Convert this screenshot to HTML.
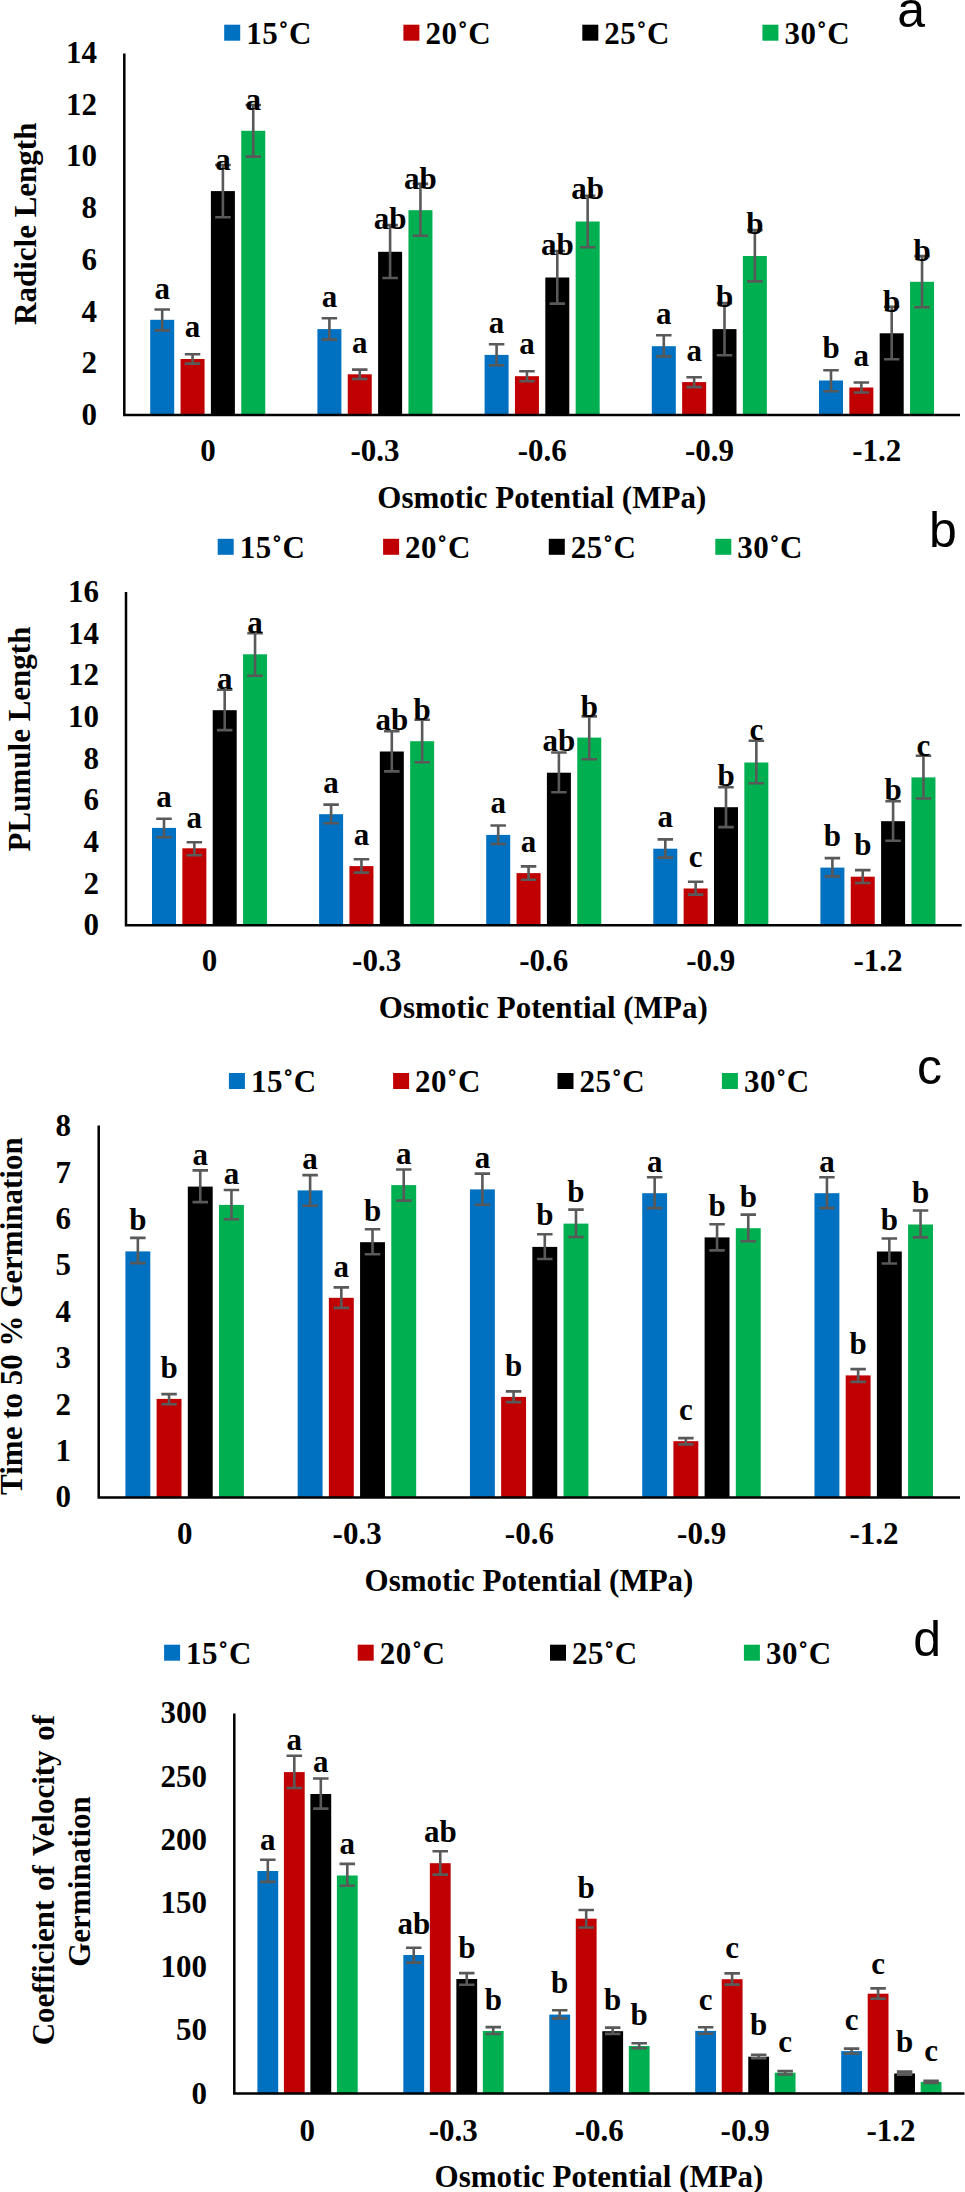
<!DOCTYPE html>
<html><head><meta charset="utf-8"><title>Chart</title>
<style>
html,body{margin:0;padding:0;background:#fff;}
svg{display:block;}
.s{font-family:"Liberation Serif",serif;font-weight:bold;font-size:31px;fill:#000;}
.m{text-anchor:middle;}
.e{text-anchor:end;}
.lg{letter-spacing:0.5px;}
.L{font-family:"Liberation Sans",sans-serif;font-size:50px;fill:#000;}
</style></head><body>
<svg width="965" height="2192" viewBox="0 0 965 2192">
<rect width="965" height="2192" fill="#fff"/>
<rect x="150.2" y="319.8" width="24" height="95.3" fill="#0070C0"/>
<rect x="180.55" y="359" width="24" height="56.1" fill="#C00000"/>
<rect x="210.9" y="191.1" width="24" height="224" fill="#000000"/>
<rect x="241.25" y="130.8" width="24" height="284.3" fill="#00B050"/>
<rect x="317.4" y="329.1" width="24" height="86" fill="#0070C0"/>
<rect x="347.75" y="374.3" width="24" height="40.8" fill="#C00000"/>
<rect x="378.1" y="251.8" width="24" height="163.3" fill="#000000"/>
<rect x="408.45" y="210.2" width="24" height="204.9" fill="#00B050"/>
<rect x="484.6" y="354.9" width="24" height="60.2" fill="#0070C0"/>
<rect x="514.95" y="376.2" width="24" height="38.9" fill="#C00000"/>
<rect x="545.3" y="277.5" width="24" height="137.6" fill="#000000"/>
<rect x="575.65" y="221.5" width="24" height="193.6" fill="#00B050"/>
<rect x="651.8" y="346.2" width="24" height="68.9" fill="#0070C0"/>
<rect x="682.15" y="382.1" width="24" height="33" fill="#C00000"/>
<rect x="712.5" y="329.1" width="24" height="86" fill="#000000"/>
<rect x="742.85" y="256" width="24" height="159.1" fill="#00B050"/>
<rect x="819" y="380.5" width="24" height="34.6" fill="#0070C0"/>
<rect x="849.35" y="387.5" width="24" height="27.6" fill="#C00000"/>
<rect x="879.7" y="333.3" width="24" height="81.8" fill="#000000"/>
<rect x="910.05" y="281.8" width="24" height="133.3" fill="#00B050"/>
<path d="M124.3 53.4V415.1H960" fill="none" stroke="#000" stroke-width="2.5"/>
<path d="M162.2 309.5V330.4M154.45 309.5H169.95M154.45 330.4H169.95" stroke="#595959" stroke-width="2.6" fill="none"/>
<path d="M192.55 354.3V363.6M184.8 354.3H200.3M184.8 363.6H200.3" stroke="#595959" stroke-width="2.6" fill="none"/>
<path d="M222.9 165V217.2M215.15 165H230.65M215.15 217.2H230.65" stroke="#595959" stroke-width="2.6" fill="none"/>
<path d="M253.25 105V156.6M245.5 105H261M245.5 156.6H261" stroke="#595959" stroke-width="2.6" fill="none"/>
<path d="M329.4 318.2V339.6M321.65 318.2H337.15M321.65 339.6H337.15" stroke="#595959" stroke-width="2.6" fill="none"/>
<path d="M359.75 369.6V379M352 369.6H367.5M352 379H367.5" stroke="#595959" stroke-width="2.6" fill="none"/>
<path d="M390.1 225.1V278M382.35 225.1H397.85M382.35 278H397.85" stroke="#595959" stroke-width="2.6" fill="none"/>
<path d="M420.45 183.9V235.7M412.7 183.9H428.2M412.7 235.7H428.2" stroke="#595959" stroke-width="2.6" fill="none"/>
<path d="M496.6 344.3V365.3M488.85 344.3H504.35M488.85 365.3H504.35" stroke="#595959" stroke-width="2.6" fill="none"/>
<path d="M526.95 371.2V381.2M519.2 371.2H534.7M519.2 381.2H534.7" stroke="#595959" stroke-width="2.6" fill="none"/>
<path d="M557.3 251V303.6M549.55 251H565.05M549.55 303.6H565.05" stroke="#595959" stroke-width="2.6" fill="none"/>
<path d="M587.65 195.9V247.2M579.9 195.9H595.4M579.9 247.2H595.4" stroke="#595959" stroke-width="2.6" fill="none"/>
<path d="M663.8 335.3V356.4M656.05 335.3H671.55M656.05 356.4H671.55" stroke="#595959" stroke-width="2.6" fill="none"/>
<path d="M694.15 377.3V387.1M686.4 377.3H701.9M686.4 387.1H701.9" stroke="#595959" stroke-width="2.6" fill="none"/>
<path d="M724.5 303.1V355.2M716.75 303.1H732.25M716.75 355.2H732.25" stroke="#595959" stroke-width="2.6" fill="none"/>
<path d="M754.85 230.1V281.4M747.1 230.1H762.6M747.1 281.4H762.6" stroke="#595959" stroke-width="2.6" fill="none"/>
<path d="M831 370.2V391.3M823.25 370.2H838.75M823.25 391.3H838.75" stroke="#595959" stroke-width="2.6" fill="none"/>
<path d="M861.35 382.5V392.5M853.6 382.5H869.1M853.6 392.5H869.1" stroke="#595959" stroke-width="2.6" fill="none"/>
<path d="M891.7 306.7V359.3M883.95 306.7H899.45M883.95 359.3H899.45" stroke="#595959" stroke-width="2.6" fill="none"/>
<path d="M922.05 256.1V307.2M914.3 256.1H929.8M914.3 307.2H929.8" stroke="#595959" stroke-width="2.6" fill="none"/>
<text x="162.2" y="299.1" class="s m">a</text>
<text x="192.55" y="337.4" class="s m">a</text>
<text x="222.9" y="169.5" class="s m">a</text>
<text x="253.25" y="109.8" class="s m">a</text>
<text x="329.4" y="307" class="s m">a</text>
<text x="359.75" y="352.9" class="s m">a</text>
<text x="390.1" y="229.3" class="s m">ab</text>
<text x="420.45" y="188.9" class="s m">ab</text>
<text x="496.6" y="332.7" class="s m">a</text>
<text x="526.95" y="354.1" class="s m">a</text>
<text x="557.3" y="255.3" class="s m">ab</text>
<text x="587.65" y="199.3" class="s m">ab</text>
<text x="663.8" y="324.1" class="s m">a</text>
<text x="694.15" y="361" class="s m">a</text>
<text x="724.5" y="307" class="s m">b</text>
<text x="754.85" y="234.4" class="s m">b</text>
<text x="831" y="358.4" class="s m">b</text>
<text x="861.35" y="365.6" class="s m">a</text>
<text x="891.7" y="311.7" class="s m">b</text>
<text x="922.05" y="260.6" class="s m">b</text>
<text x="97" y="425" class="s e">0</text>
<text x="97" y="373.28" class="s e">2</text>
<text x="97" y="321.56" class="s e">4</text>
<text x="97" y="269.84" class="s e">6</text>
<text x="97" y="218.12" class="s e">8</text>
<text x="97" y="166.4" class="s e">10</text>
<text x="97" y="114.68" class="s e">12</text>
<text x="97" y="62.96" class="s e">14</text>
<text x="207.9" y="461" class="s m">0</text>
<text x="375.1" y="461" class="s m">-0.3</text>
<text x="542.3" y="461" class="s m">-0.6</text>
<text x="709.5" y="461" class="s m">-0.9</text>
<text x="876.7" y="461" class="s m">-1.2</text>
<text x="541.8" y="507.8" class="s m">Osmotic Potential (MPa)</text>
<rect x="224.2" y="24.7" width="16" height="16" fill="#0070C0"/>
<text x="246.2" y="44.1" class="s lg">15˚C</text>
<rect x="403.4" y="24.7" width="16" height="16" fill="#C00000"/>
<text x="425.4" y="44.1" class="s lg">20˚C</text>
<rect x="582.3" y="24.7" width="16" height="16" fill="#000000"/>
<text x="604.3" y="44.1" class="s lg">25˚C</text>
<rect x="762.4" y="24.7" width="16" height="16" fill="#00B050"/>
<text x="784.4" y="44.1" class="s lg">30˚C</text>
<text x="897.2" y="27.3" class="L">a</text>
<text transform="translate(36.1 223.8) rotate(-90)" class="s m">Radicle Length</text>
<rect x="152" y="827.9" width="24" height="97.3" fill="#0070C0"/>
<rect x="182.35" y="848.3" width="24" height="76.9" fill="#C00000"/>
<rect x="212.7" y="710.2" width="24" height="215" fill="#000000"/>
<rect x="243.05" y="654.3" width="24" height="270.9" fill="#00B050"/>
<rect x="319.1" y="814.2" width="24" height="111" fill="#0070C0"/>
<rect x="349.45" y="866.1" width="24" height="59.1" fill="#C00000"/>
<rect x="379.8" y="751.5" width="24" height="173.7" fill="#000000"/>
<rect x="410.15" y="741.2" width="24" height="184" fill="#00B050"/>
<rect x="486.2" y="834.9" width="24" height="90.3" fill="#0070C0"/>
<rect x="516.55" y="873.1" width="24" height="52.1" fill="#C00000"/>
<rect x="546.9" y="772.7" width="24" height="152.5" fill="#000000"/>
<rect x="577.25" y="737.6" width="24" height="187.6" fill="#00B050"/>
<rect x="653.3" y="848.7" width="24" height="76.5" fill="#0070C0"/>
<rect x="683.65" y="888.5" width="24" height="36.7" fill="#C00000"/>
<rect x="714" y="807.2" width="24" height="118" fill="#000000"/>
<rect x="744.35" y="762.5" width="24" height="162.7" fill="#00B050"/>
<rect x="820.4" y="867.6" width="24" height="57.6" fill="#0070C0"/>
<rect x="850.75" y="876.7" width="24" height="48.5" fill="#C00000"/>
<rect x="881.1" y="821.2" width="24" height="104" fill="#000000"/>
<rect x="911.45" y="777.4" width="24" height="147.8" fill="#00B050"/>
<path d="M126 591.9V925.2H961.7" fill="none" stroke="#000" stroke-width="2.5"/>
<path d="M164 818.8V837.3M156.25 818.8H171.75M156.25 837.3H171.75" stroke="#595959" stroke-width="2.6" fill="none"/>
<path d="M194.35 842.3V855.2M186.6 842.3H202.1M186.6 855.2H202.1" stroke="#595959" stroke-width="2.6" fill="none"/>
<path d="M224.7 689.8V730.1M216.95 689.8H232.45M216.95 730.1H232.45" stroke="#595959" stroke-width="2.6" fill="none"/>
<path d="M255.05 633.1V675.7M247.3 633.1H262.8M247.3 675.7H262.8" stroke="#595959" stroke-width="2.6" fill="none"/>
<path d="M331.1 804.6V823.3M323.35 804.6H338.85M323.35 823.3H338.85" stroke="#595959" stroke-width="2.6" fill="none"/>
<path d="M361.45 859.3V872.6M353.7 859.3H369.2M353.7 872.6H369.2" stroke="#595959" stroke-width="2.6" fill="none"/>
<path d="M391.8 731.3V771.4M384.05 731.3H399.55M384.05 771.4H399.55" stroke="#595959" stroke-width="2.6" fill="none"/>
<path d="M422.15 719.7V762.3M414.4 719.7H429.9M414.4 762.3H429.9" stroke="#595959" stroke-width="2.6" fill="none"/>
<path d="M498.2 825.5V844M490.45 825.5H505.95M490.45 844H505.95" stroke="#595959" stroke-width="2.6" fill="none"/>
<path d="M528.55 866.4V879.7M520.8 866.4H536.3M520.8 879.7H536.3" stroke="#595959" stroke-width="2.6" fill="none"/>
<path d="M558.9 752.5V792.3M551.15 752.5H566.65M551.15 792.3H566.65" stroke="#595959" stroke-width="2.6" fill="none"/>
<path d="M589.25 716.4V759.2M581.5 716.4H597M581.5 759.2H597" stroke="#595959" stroke-width="2.6" fill="none"/>
<path d="M665.3 839.4V857.6M657.55 839.4H673.05M657.55 857.6H673.05" stroke="#595959" stroke-width="2.6" fill="none"/>
<path d="M695.65 881.7V894.6M687.9 881.7H703.4M687.9 894.6H703.4" stroke="#595959" stroke-width="2.6" fill="none"/>
<path d="M726 787.3V827.1M718.25 787.3H733.75M718.25 827.1H733.75" stroke="#595959" stroke-width="2.6" fill="none"/>
<path d="M756.35 740.7V783.2M748.6 740.7H764.1M748.6 783.2H764.1" stroke="#595959" stroke-width="2.6" fill="none"/>
<path d="M832.4 858.1V876.4M824.65 858.1H840.15M824.65 876.4H840.15" stroke="#595959" stroke-width="2.6" fill="none"/>
<path d="M862.75 870.1V883M855 870.1H870.5M855 883H870.5" stroke="#595959" stroke-width="2.6" fill="none"/>
<path d="M893.1 801.3V840.7M885.35 801.3H900.85M885.35 840.7H900.85" stroke="#595959" stroke-width="2.6" fill="none"/>
<path d="M923.45 755.8V798.5M915.7 755.8H931.2M915.7 798.5H931.2" stroke="#595959" stroke-width="2.6" fill="none"/>
<text x="164" y="806.6" class="s m">a</text>
<text x="194.35" y="827.9" class="s m">a</text>
<text x="224.7" y="688.6" class="s m">a</text>
<text x="255.05" y="632.5" class="s m">a</text>
<text x="331.1" y="793.1" class="s m">a</text>
<text x="361.45" y="844.8" class="s m">a</text>
<text x="391.8" y="729.6" class="s m">ab</text>
<text x="422.15" y="720.2" class="s m">b</text>
<text x="498.2" y="813.3" class="s m">a</text>
<text x="528.55" y="851.5" class="s m">a</text>
<text x="558.9" y="751.2" class="s m">ab</text>
<text x="589.25" y="716.8" class="s m">b</text>
<text x="665.3" y="827.4" class="s m">a</text>
<text x="695.65" y="867.2" class="s m">c</text>
<text x="726" y="786" class="s m">b</text>
<text x="756.35" y="740.1" class="s m">c</text>
<text x="832.4" y="845.7" class="s m">b</text>
<text x="862.75" y="854.8" class="s m">b</text>
<text x="893.1" y="799.8" class="s m">b</text>
<text x="923.45" y="755.6" class="s m">c</text>
<text x="99" y="935.3" class="s e">0</text>
<text x="99" y="893.66" class="s e">2</text>
<text x="99" y="852.02" class="s e">4</text>
<text x="99" y="810.38" class="s e">6</text>
<text x="99" y="768.74" class="s e">8</text>
<text x="99" y="727.1" class="s e">10</text>
<text x="99" y="685.46" class="s e">12</text>
<text x="99" y="643.82" class="s e">14</text>
<text x="99" y="602.18" class="s e">16</text>
<text x="209.55" y="971.1" class="s m">0</text>
<text x="376.65" y="971.1" class="s m">-0.3</text>
<text x="543.75" y="971.1" class="s m">-0.6</text>
<text x="710.85" y="971.1" class="s m">-0.9</text>
<text x="877.95" y="971.1" class="s m">-1.2</text>
<text x="543.3" y="1017.8" class="s m">Osmotic Potential (MPa)</text>
<rect x="217.7" y="538.8" width="16" height="16" fill="#0070C0"/>
<text x="239.7" y="558.2" class="s lg">15˚C</text>
<rect x="383.1" y="538.8" width="16" height="16" fill="#C00000"/>
<text x="405.1" y="558.2" class="s lg">20˚C</text>
<rect x="548.8" y="538.8" width="16" height="16" fill="#000000"/>
<text x="570.8" y="558.2" class="s lg">25˚C</text>
<rect x="715.3" y="538.8" width="16" height="16" fill="#00B050"/>
<text x="737.3" y="558.2" class="s lg">30˚C</text>
<text x="929" y="546.6" class="L">b</text>
<text transform="translate(29.5 739) rotate(-90)" class="s m">PLumule Length</text>
<rect x="125.4" y="1251.4" width="24.9" height="246.1" fill="#0070C0"/>
<rect x="156.6" y="1398.9" width="24.9" height="98.6" fill="#C00000"/>
<rect x="187.8" y="1186.6" width="24.9" height="310.9" fill="#000000"/>
<rect x="219" y="1204.9" width="24.9" height="292.6" fill="#00B050"/>
<rect x="297.67" y="1190.4" width="24.9" height="307.1" fill="#0070C0"/>
<rect x="328.87" y="1297.8" width="24.9" height="199.7" fill="#C00000"/>
<rect x="360.07" y="1242.2" width="24.9" height="255.3" fill="#000000"/>
<rect x="391.27" y="1185.1" width="24.9" height="312.4" fill="#00B050"/>
<rect x="469.94" y="1189.4" width="24.9" height="308.1" fill="#0070C0"/>
<rect x="501.14" y="1396.9" width="24.9" height="100.6" fill="#C00000"/>
<rect x="532.34" y="1246.9" width="24.9" height="250.6" fill="#000000"/>
<rect x="563.54" y="1223.6" width="24.9" height="273.9" fill="#00B050"/>
<rect x="642.21" y="1193.2" width="24.9" height="304.3" fill="#0070C0"/>
<rect x="673.41" y="1441.2" width="24.9" height="56.3" fill="#C00000"/>
<rect x="704.61" y="1237.4" width="24.9" height="260.1" fill="#000000"/>
<rect x="735.81" y="1228.2" width="24.9" height="269.3" fill="#00B050"/>
<rect x="814.48" y="1193.2" width="24.9" height="304.3" fill="#0070C0"/>
<rect x="845.68" y="1375.4" width="24.9" height="122.1" fill="#C00000"/>
<rect x="876.88" y="1251.5" width="24.9" height="246" fill="#000000"/>
<rect x="908.08" y="1224.5" width="24.9" height="273" fill="#00B050"/>
<path d="M98.7 1125.6V1497.5H960" fill="none" stroke="#000" stroke-width="2.5"/>
<path d="M137.85 1237.9V1263.1M130.1 1237.9H145.6M130.1 1263.1H145.6" stroke="#595959" stroke-width="2.6" fill="none"/>
<path d="M169.05 1394.1V1404.3M161.3 1394.1H176.8M161.3 1404.3H176.8" stroke="#595959" stroke-width="2.6" fill="none"/>
<path d="M200.25 1170.4V1202.1M192.5 1170.4H208M192.5 1202.1H208" stroke="#595959" stroke-width="2.6" fill="none"/>
<path d="M231.45 1190V1219.3M223.7 1190H239.2M223.7 1219.3H239.2" stroke="#595959" stroke-width="2.6" fill="none"/>
<path d="M310.12 1175.1V1205.7M302.37 1175.1H317.87M302.37 1205.7H317.87" stroke="#595959" stroke-width="2.6" fill="none"/>
<path d="M341.32 1287.4V1307.9M333.57 1287.4H349.07M333.57 1307.9H349.07" stroke="#595959" stroke-width="2.6" fill="none"/>
<path d="M372.52 1229.2V1254.3M364.77 1229.2H380.27M364.77 1254.3H380.27" stroke="#595959" stroke-width="2.6" fill="none"/>
<path d="M403.72 1169.5V1200.6M395.97 1169.5H411.47M395.97 1200.6H411.47" stroke="#595959" stroke-width="2.6" fill="none"/>
<path d="M482.39 1173.6V1204.7M474.64 1173.6H490.14M474.64 1204.7H490.14" stroke="#595959" stroke-width="2.6" fill="none"/>
<path d="M513.59 1391.4V1402.1M505.84 1391.4H521.34M505.84 1402.1H521.34" stroke="#595959" stroke-width="2.6" fill="none"/>
<path d="M544.79 1234.2V1259M537.04 1234.2H552.54M537.04 1259H552.54" stroke="#595959" stroke-width="2.6" fill="none"/>
<path d="M575.99 1209.6V1237M568.24 1209.6H583.74M568.24 1237H583.74" stroke="#595959" stroke-width="2.6" fill="none"/>
<path d="M654.66 1177.3V1208.1M646.91 1177.3H662.41M646.91 1208.1H662.41" stroke="#595959" stroke-width="2.6" fill="none"/>
<path d="M685.86 1438.1V1444.4M678.11 1438.1H693.61M678.11 1444.4H693.61" stroke="#595959" stroke-width="2.6" fill="none"/>
<path d="M717.06 1224.3V1250.4M709.31 1224.3H724.81M709.31 1250.4H724.81" stroke="#595959" stroke-width="2.6" fill="none"/>
<path d="M748.26 1214.6V1241.3M740.51 1214.6H756.01M740.51 1241.3H756.01" stroke="#595959" stroke-width="2.6" fill="none"/>
<path d="M826.93 1177.3V1208.1M819.18 1177.3H834.68M819.18 1208.1H834.68" stroke="#595959" stroke-width="2.6" fill="none"/>
<path d="M858.13 1369.1V1381.9M850.38 1369.1H865.88M850.38 1381.9H865.88" stroke="#595959" stroke-width="2.6" fill="none"/>
<path d="M889.33 1238.5V1263.5M881.58 1238.5H897.08M881.58 1263.5H897.08" stroke="#595959" stroke-width="2.6" fill="none"/>
<path d="M920.53 1210.5V1237.4M912.78 1210.5H928.28M912.78 1237.4H928.28" stroke="#595959" stroke-width="2.6" fill="none"/>
<text x="137.85" y="1230" class="s m">b</text>
<text x="169.05" y="1378.1" class="s m">b</text>
<text x="200.25" y="1164.7" class="s m">a</text>
<text x="231.45" y="1183.7" class="s m">a</text>
<text x="310.12" y="1168.8" class="s m">a</text>
<text x="341.32" y="1277" class="s m">a</text>
<text x="372.52" y="1221" class="s m">b</text>
<text x="403.72" y="1163.6" class="s m">a</text>
<text x="482.39" y="1167.5" class="s m">a</text>
<text x="513.59" y="1375.8" class="s m">b</text>
<text x="544.79" y="1225.1" class="s m">b</text>
<text x="575.99" y="1202" class="s m">b</text>
<text x="654.66" y="1171.6" class="s m">a</text>
<text x="685.86" y="1420" class="s m">c</text>
<text x="717.06" y="1216" class="s m">b</text>
<text x="748.26" y="1207" class="s m">b</text>
<text x="826.93" y="1171.6" class="s m">a</text>
<text x="858.13" y="1353.8" class="s m">b</text>
<text x="889.33" y="1230" class="s m">b</text>
<text x="920.53" y="1202.7" class="s m">b</text>
<text x="71" y="1507.3" class="s e">0</text>
<text x="71" y="1460.91" class="s e">1</text>
<text x="71" y="1414.52" class="s e">2</text>
<text x="71" y="1368.13" class="s e">3</text>
<text x="71" y="1321.74" class="s e">4</text>
<text x="71" y="1275.35" class="s e">5</text>
<text x="71" y="1228.96" class="s e">6</text>
<text x="71" y="1182.57" class="s e">7</text>
<text x="71" y="1136.18" class="s e">8</text>
<text x="184.84" y="1544" class="s m">0</text>
<text x="357.11" y="1544" class="s m">-0.3</text>
<text x="529.38" y="1544" class="s m">-0.6</text>
<text x="701.65" y="1544" class="s m">-0.9</text>
<text x="873.92" y="1544" class="s m">-1.2</text>
<text x="529" y="1590.9" class="s m">Osmotic Potential (MPa)</text>
<rect x="228.9" y="1073" width="16" height="16" fill="#0070C0"/>
<text x="250.9" y="1092.1" class="s lg">15˚C</text>
<rect x="393.1" y="1073" width="16" height="16" fill="#C00000"/>
<text x="415.1" y="1092.1" class="s lg">20˚C</text>
<rect x="557.5" y="1073" width="16" height="16" fill="#000000"/>
<text x="579.5" y="1092.1" class="s lg">25˚C</text>
<rect x="721.9" y="1073" width="16" height="16" fill="#00B050"/>
<text x="743.9" y="1092.1" class="s lg">30˚C</text>
<text x="917.1" y="1084.2" class="L">c</text>
<text transform="translate(22.1 1316.1) rotate(-90)" class="s m">Time to 50 % Germination</text>
<rect x="257.4" y="1871" width="20.8" height="222.4" fill="#0070C0"/>
<rect x="283.9" y="1772.1" width="20.8" height="321.3" fill="#C00000"/>
<rect x="310.4" y="1794" width="20.8" height="299.4" fill="#000000"/>
<rect x="336.9" y="1875.5" width="20.8" height="217.9" fill="#00B050"/>
<rect x="403.35" y="1955" width="20.8" height="138.4" fill="#0070C0"/>
<rect x="429.85" y="1863.2" width="20.8" height="230.2" fill="#C00000"/>
<rect x="456.35" y="1979" width="20.8" height="114.4" fill="#000000"/>
<rect x="482.85" y="2031" width="20.8" height="62.4" fill="#00B050"/>
<rect x="549.3" y="2014.6" width="20.8" height="78.8" fill="#0070C0"/>
<rect x="575.8" y="1918.7" width="20.8" height="174.7" fill="#C00000"/>
<rect x="602.3" y="2031.2" width="20.8" height="62.2" fill="#000000"/>
<rect x="628.8" y="2046" width="20.8" height="47.4" fill="#00B050"/>
<rect x="695.25" y="2030.9" width="20.8" height="62.5" fill="#0070C0"/>
<rect x="721.75" y="1979.2" width="20.8" height="114.2" fill="#C00000"/>
<rect x="748.25" y="2056.7" width="20.8" height="36.7" fill="#000000"/>
<rect x="774.75" y="2072.7" width="20.8" height="20.7" fill="#00B050"/>
<rect x="841.2" y="2051.1" width="20.8" height="42.3" fill="#0070C0"/>
<rect x="867.7" y="1993.7" width="20.8" height="99.7" fill="#C00000"/>
<rect x="894.2" y="2073.5" width="20.8" height="19.9" fill="#000000"/>
<rect x="920.7" y="2081.9" width="20.8" height="11.5" fill="#00B050"/>
<path d="M234.3 1713.4V2093.4H964.5" fill="none" stroke="#000" stroke-width="2.5"/>
<path d="M267.8 1859.7V1881.9M260.05 1859.7H275.55M260.05 1881.9H275.55" stroke="#595959" stroke-width="2.6" fill="none"/>
<path d="M294.3 1755.7V1788M286.55 1755.7H302.05M286.55 1788H302.05" stroke="#595959" stroke-width="2.6" fill="none"/>
<path d="M320.8 1778.5V1808.6M313.05 1778.5H328.55M313.05 1808.6H328.55" stroke="#595959" stroke-width="2.6" fill="none"/>
<path d="M347.3 1863.9V1885.8M339.55 1863.9H355.05M339.55 1885.8H355.05" stroke="#595959" stroke-width="2.6" fill="none"/>
<path d="M413.75 1947.8V1962.6M406 1947.8H421.5M406 1962.6H421.5" stroke="#595959" stroke-width="2.6" fill="none"/>
<path d="M440.25 1851.3V1874.6M432.5 1851.3H448M432.5 1874.6H448" stroke="#595959" stroke-width="2.6" fill="none"/>
<path d="M466.75 1973.1V1984.7M459 1973.1H474.5M459 1984.7H474.5" stroke="#595959" stroke-width="2.6" fill="none"/>
<path d="M493.25 2027.1V2034M485.5 2027.1H501M485.5 2034H501" stroke="#595959" stroke-width="2.6" fill="none"/>
<path d="M559.7 2010.3V2018.4M551.95 2010.3H567.45M551.95 2018.4H567.45" stroke="#595959" stroke-width="2.6" fill="none"/>
<path d="M586.2 1910V1927.5M578.45 1910H593.95M578.45 1927.5H593.95" stroke="#595959" stroke-width="2.6" fill="none"/>
<path d="M612.7 2027.6V2033.9M604.95 2027.6H620.45M604.95 2033.9H620.45" stroke="#595959" stroke-width="2.6" fill="none"/>
<path d="M639.2 2043.3V2048.3M631.45 2043.3H646.95M631.45 2048.3H646.95" stroke="#595959" stroke-width="2.6" fill="none"/>
<path d="M705.65 2027.3V2033.8M697.9 2027.3H713.4M697.9 2033.8H713.4" stroke="#595959" stroke-width="2.6" fill="none"/>
<path d="M732.15 1973.4V1984.6M724.4 1973.4H739.9M724.4 1984.6H739.9" stroke="#595959" stroke-width="2.6" fill="none"/>
<path d="M758.65 2054.7V2058.3M750.9 2054.7H766.4M750.9 2058.3H766.4" stroke="#595959" stroke-width="2.6" fill="none"/>
<path d="M785.15 2071.1V2074.5M777.4 2071.1H792.9M777.4 2074.5H792.9" stroke="#595959" stroke-width="2.6" fill="none"/>
<path d="M851.6 2048.6V2053.5M843.85 2048.6H859.35M843.85 2053.5H859.35" stroke="#595959" stroke-width="2.6" fill="none"/>
<path d="M878.1 1988.4V1998.6M870.35 1988.4H885.85M870.35 1998.6H885.85" stroke="#595959" stroke-width="2.6" fill="none"/>
<path d="M904.6 2071.6V2074.6M896.85 2071.6H912.35M896.85 2074.6H912.35" stroke="#595959" stroke-width="2.6" fill="none"/>
<path d="M931.1 2080.8V2083M923.35 2080.8H938.85M923.35 2083H938.85" stroke="#595959" stroke-width="2.6" fill="none"/>
<text x="267.8" y="1850.1" class="s m">a</text>
<text x="294.3" y="1750.4" class="s m">a</text>
<text x="320.8" y="1772.3" class="s m">a</text>
<text x="347.3" y="1853.7" class="s m">a</text>
<text x="413.75" y="1933.5" class="s m">ab</text>
<text x="440.25" y="1841.8" class="s m">ab</text>
<text x="466.75" y="1958.2" class="s m">b</text>
<text x="493.25" y="2010.2" class="s m">b</text>
<text x="559.7" y="1992.9" class="s m">b</text>
<text x="586.2" y="1898" class="s m">b</text>
<text x="612.7" y="2009.8" class="s m">b</text>
<text x="639.2" y="2024.9" class="s m">b</text>
<text x="705.65" y="2009.9" class="s m">c</text>
<text x="732.15" y="1958.1" class="s m">c</text>
<text x="758.65" y="2034.8" class="s m">b</text>
<text x="785.15" y="2052" class="s m">c</text>
<text x="851.6" y="2030.2" class="s m">c</text>
<text x="878.1" y="1973.5" class="s m">c</text>
<text x="904.6" y="2052.2" class="s m">b</text>
<text x="931.1" y="2061" class="s m">c</text>
<text x="207.1" y="2103.5" class="s e">0</text>
<text x="207.1" y="2040.1" class="s e">50</text>
<text x="207.1" y="1976.7" class="s e">100</text>
<text x="207.1" y="1913.3" class="s e">150</text>
<text x="207.1" y="1849.9" class="s e">200</text>
<text x="207.1" y="1786.5" class="s e">250</text>
<text x="207.1" y="1723.1" class="s e">300</text>
<text x="307.27" y="2140.5" class="s m">0</text>
<text x="453.23" y="2140.5" class="s m">-0.3</text>
<text x="599.17" y="2140.5" class="s m">-0.6</text>
<text x="745.12" y="2140.5" class="s m">-0.9</text>
<text x="891.08" y="2140.5" class="s m">-1.2</text>
<text x="599" y="2187.1" class="s m">Osmotic Potential (MPa)</text>
<rect x="164.1" y="1644.7" width="16" height="16" fill="#0070C0"/>
<text x="186.1" y="1664.1" class="s lg">15˚C</text>
<rect x="357.7" y="1644.7" width="16" height="16" fill="#C00000"/>
<text x="379.7" y="1664.1" class="s lg">20˚C</text>
<rect x="550" y="1644.7" width="16" height="16" fill="#000000"/>
<text x="572" y="1664.1" class="s lg">25˚C</text>
<rect x="743.9" y="1644.7" width="16" height="16" fill="#00B050"/>
<text x="765.9" y="1664.1" class="s lg">30˚C</text>
<text x="913.2" y="1655.7" class="L">d</text>
<text transform="translate(53.8 1880.1) rotate(-90)" class="s m" style="word-spacing:2px">Coefficient of Velocity of</text>
<text transform="translate(90.2 1881.5) rotate(-90)" class="s m">Germination</text>
</svg>
</body></html>
